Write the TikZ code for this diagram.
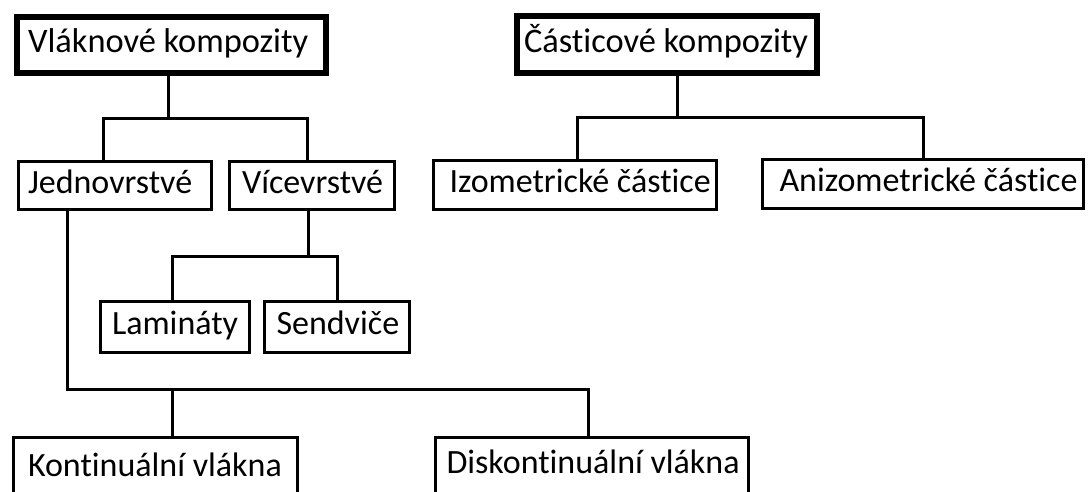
\documentclass[tikz,border=0pt]{standalone}
\usepackage{fontspec}
\setmainfont{Carlito}[Ligatures=NoCommon]
\newcommand{\lbx}[2]{\makebox[#1][l]{#2}}
\begin{document}
\begin{tikzpicture}[x=1pt,y=-1pt,
  box/.style={draw=black,line width=3pt,fill=white,inner ysep=0pt,anchor=center,
    text height=24pt,text depth=9pt,font=\fontsize{34}{36}\selectfont},
  mainbox/.style={box,line width=6pt,font=\fontsize{34.4}{37}\selectfont},
  conn/.style={draw=black,line width=3pt,line join=miter}]
\useasboundingbox[fill=white] (0,0) rectangle (1089,491);
% top-level boxes
\node[mainbox,inner xsep=11pt,minimum height=56pt] (vk) at (171.5,45) {\lbx{287pt}{Vláknové kompozity}};
\node[mainbox,inner xsep=7pt,minimum height=57pt] (ck) at (667,44.5) {\lbx{286pt}{Částicové kompozity}};
% second level
\node[box,inner xsep=9.5pt,minimum height=48pt] (jed) at (115,185.5) {\lbx{174pt}{Jednovrstvé}};
\node[box,inner xsep=12.5pt,minimum height=48pt] (vic) at (312,185.5) {\lbx{140pt}{Vícevrstvé}};
\node[box,inner xsep=16pt,minimum height=49pt] (izo) at (575,185) {\lbx{251pt}{Izometrické částice}};
\node[box,inner xsep=17pt,minimum height=49pt] (ani) at (923,184) {\lbx{287pt}{Anizometrické částice}};
% third level
\node[box,inner xsep=11.5pt,minimum height=51pt] (lam) at (175,327) {\lbx{126pt}{Lamináty}};
\node[box,inner xsep=12pt,minimum height=51pt] (sen) at (337,327) {\lbx{121pt}{Sendviče}};
% bottom level (cut by the page edge)
\node[box,inner xsep=14.5pt,minimum height=62pt] (kon) at (155.5,468.5) {\lbx{255pt}{Kontinuální vlákna}};
\node[box,inner xsep=11pt,minimum height=56pt] (dis) at (592,465.5) {\lbx{291pt}{Diskontinuální vlákna}};
% junction coordinates
\coordinate (j1) at (168,118);
\coordinate (j1l) at (103,118);
\coordinate (j1r) at (307,118);
\coordinate (j2) at (677,117);
\coordinate (j2l) at (577,117);
\coordinate (j2r) at (923,117);
\coordinate (j3) at (308,256);
\coordinate (j3l) at (172,256);
\coordinate (j3r) at (337,256);
\coordinate (j4) at (67,389);
\coordinate (j4m) at (172,389);
\coordinate (j4r) at (588,389);
% connectors
\draw[conn] (vk.south -| j1) -- (j1);
\draw[conn] (jed.north -| j1l) -- (j1l) -- (j1r) -- (vic.north -| j1r);
\draw[conn] (ck.south -| j2) -- (j2);
\draw[conn] (izo.north -| j2l) -- (j2l) -- (j2r) -- (ani.north -| j2r);
\draw[conn] (vic.south -| j3) -- (j3);
\draw[conn] (lam.north -| j3l) -- (j3l) -- (j3r) -- (sen.north -| j3r);
\draw[conn] (jed.south -| j4) -- (j4) -- (j4r) -- (dis.north -| j4r);
\draw[conn] (j4m) -- (kon.north -| j4m);
\end{tikzpicture}
\end{document}
